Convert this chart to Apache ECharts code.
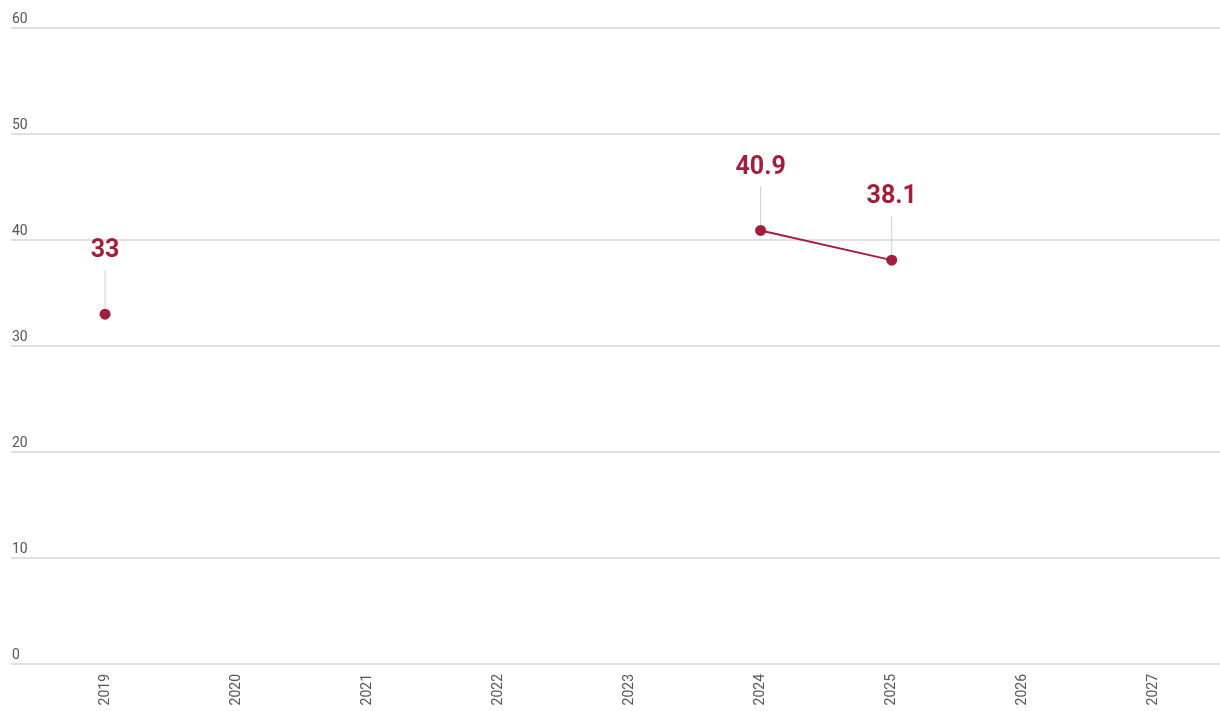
<!DOCTYPE html>
<html><head><meta charset="utf-8">
<style>html,body{margin:0;padding:0;background:#fff}#c{width:1220px;height:711px}</style>
<script src="https://cdn.jsdelivr.net/npm/echarts@6/dist/echarts.min.js"></script>
</head><body><div id="c"></div>
<script>
var years = ['2019','2020','2021','2022','2023','2024','2025','2026','2027'];
var values = [33, null, null, null, null, 40.9, 38.1, null, null];
var yTicks = [0, 10, 20, 30, 40, 50, 60];
var RED = '#a11f3b';
var chart = echarts.init(document.getElementById('c'));
var labelData = [];
values.forEach(function(v, i){ if (v !== null) labelData.push([years[i], v]); });
chart.setOption({
  animation: false,
  textStyle: {fontFamily: 'Roboto'},
  grid: [
    {left: 11, right: 0, top: 28, bottom: 47},
    {left: 39.5, right: 0.5, top: 28, bottom: 47}
  ],
  xAxis: [
    {gridIndex: 0, type: 'value', min: 0, max: 1, show: false},
    {gridIndex: 1, type: 'category', data: years, boundaryGap: true,
     axisLine: {show: false}, axisTick: {show: false},
     axisLabel: {rotate: 90, color: '#555', fontSize: 14, margin: 10, fontFamily: 'Roboto'}}
  ],
  yAxis: [
    {gridIndex: 0, type: 'value', min: yTicks[0], max: yTicks[yTicks.length-1], interval: 10,
     axisLine: {show: false}, axisTick: {show: false},
     axisLabel: {inside: true, margin: 1, verticalAlign: 'bottom', padding: [0,0,2,0], color: '#555', fontSize: 14, fontFamily: 'Roboto'},
     splitLine: {lineStyle: {color: '#e0e0e0', width: 2}}},
    {gridIndex: 1, type: 'value', min: yTicks[0], max: yTicks[yTicks.length-1], interval: 10, show: false}
  ],
  series: [
    {type: 'custom', xAxisIndex: 1, yAxisIndex: 1, data: labelData, z: 1,
     renderItem: function(params, api){
       var p = api.coord([api.value(0), api.value(1)]);
       return {type: 'group', children: [
         {type: 'line', shape: {x1: p[0], y1: p[1]-44, x2: p[0], y2: p[1]-5}, style: {stroke: '#cfcfcf', lineWidth: 1}},
         {type: 'text', x: p[0], y: p[1]-63, style: {text: String(api.value(1)), fill: RED, font: 'bold 25px Roboto', align: 'center', verticalAlign: 'middle'}}
       ]};
     }},
    {type: 'line', xAxisIndex: 1, yAxisIndex: 1, data: values, connectNulls: false, z: 3,
     symbol: 'circle', symbolSize: 11, showAllSymbol: true,
     lineStyle: {color: RED, width: 2}, itemStyle: {color: RED}}
  ]
});
</script></body></html>
